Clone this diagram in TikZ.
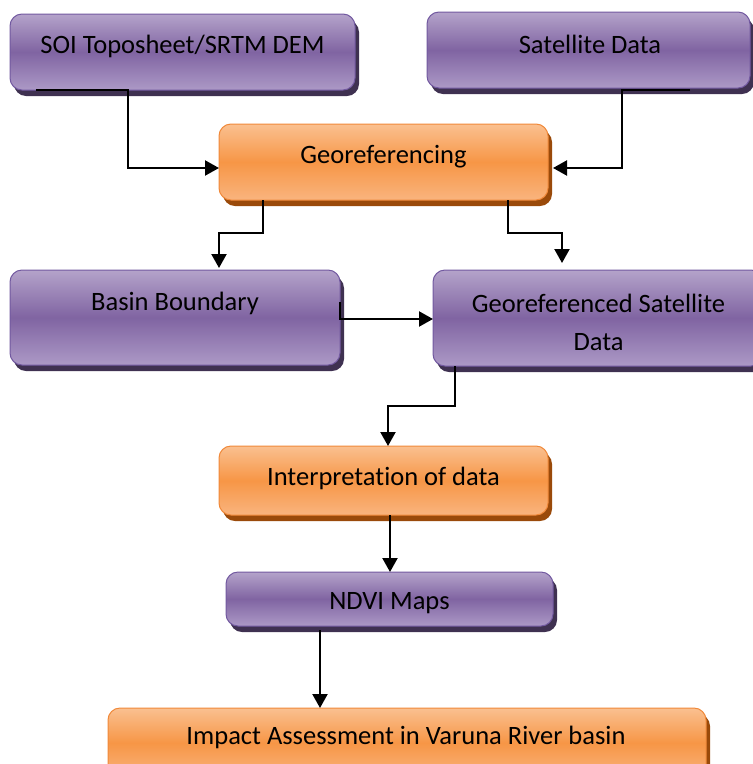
\documentclass[tikz,border=0pt]{standalone}
\usepackage{fontspec}
\setmainfont{Carlito}[Ligatures=NoCommon]
\usetikzlibrary{arrows.meta,calc,shadows}
\definecolor{ptop}{HTML}{B4A3CA}
\definecolor{pmid}{HTML}{8064A2}
\definecolor{pbot}{HTML}{AC99C6}
\definecolor{pborder}{HTML}{7259A0}
\definecolor{pshadow}{HTML}{3F3151}
\definecolor{otop}{HTML}{FAC090}
\definecolor{omid}{HTML}{F79646}
\definecolor{obot}{HTML}{F9B47E}
\definecolor{oborder}{HTML}{F0893A}
\definecolor{oshadow}{HTML}{9A4A0A}
\begin{document}
\begin{tikzpicture}[x=1pt,y=-1pt,
  boxbase/.style={rounded corners=12pt, line width=1pt, inner sep=0pt, outer sep=0pt},
  pbox/.style={boxbase, draw=pborder, top color=ptop, bottom color=pbot, middle color=pmid,
    drop shadow={shadow xshift=4pt, shadow yshift=-6pt, fill=pshadow, opacity=1}},
  obox/.style={boxbase, draw=oborder, top color=otop, bottom color=obot, middle color=omid,
    drop shadow={shadow xshift=4pt, shadow yshift=-6pt, fill=oshadow, opacity=1}},
  lbl/.style={font=\fontsize{26.5}{38}\selectfont, text=black, inner sep=0pt, align=center},
  conn/.style={line width=2.2pt, draw=black, -{Triangle[length=14pt,width=15pt]}}
]
\useasboundingbox (0,0) rectangle (753,764);
% boxes
\node[pbox, minimum width=345pt, minimum height=76pt] (soi) at (182.5,52) {};
\node[pbox, minimum width=323pt, minimum height=76pt] (sat) at (588.5,50) {};
\node[obox, minimum width=329pt, minimum height=76pt] (geo) at (383.5,162) {};
\node[pbox, minimum width=330pt, minimum height=95pt] (bb) at (175,317.5) {};
\node[pbox, minimum width=330pt, minimum height=96pt] (gsd) at (598,318) {};
\node[obox, minimum width=329pt, minimum height=69pt] (interp) at (383.5,480.5) {};
\node[pbox, minimum width=327pt, minimum height=54pt] (ndvi) at (389.5,599) {};
\node[obox, minimum width=598pt, minimum height=70pt] (impact) at (407,743) {};
% texts
\node[lbl] (soit) at ($(soi.center)+(0,-6)$) {SOI Toposheet/SRTM DEM};
\node[lbl] (satt) at ($(sat.center)+(1.5,-6)$) {Satellite Data};
\node[lbl] (geot) at ($(geo.center)+(0,-5)$) {Georeferencing};
\node[lbl] (bbt) at ($(bb.center)+(0,-14.5)$) {Basin Boundary};
\node[lbl] (gsdt) at ($(gsd.center)+(0.5,4)$) {Georeferenced Satellite\\Data};
\node[lbl] (interpt) at ($(interp.center)+(0,-2)$) {Interpretation of data};
\node[lbl] (ndvit) at ($(ndvi.center)+(0,4)$) {NDVI Maps};
\node[lbl] (impactt) at ($(impact.center)+(-1,-6)$) {Impact Assessment in Varuna River basin};
% connectors
\draw[conn] ($(soi.south west)+(26,0)$) -- ++(92,0) |- ($(geo.west)+(0,6)$);
\draw[conn] ($(sat.south west)+(263,2)$) -- ++(-68,0) |- ($(geo.east)+(5,6)$);
\draw[conn] ($(geo.south west)+(44,0)$) -- ++(0,33) -| ($(bb.north west)+(209,-2)$);
\draw[conn] ($(geo.south west)+(289,0)$) -- ++(0,33) -| ($(gsd.north west)+(129,-7)$);
\draw[conn] ($(bb.east)+(0,-15.5)$) |- ($(gsd.west)+(0,1)$);
\draw[conn] ($(gsd.south west)+(22,0)$) -- ++(0,40) -| ($(interp.north west)+(169,0)$);
\coordinate (c7) at ($(interp.south west)+(171,0)$);
\draw[conn] (c7) -- (c7 |- ndvi.north);
\coordinate (c8) at ($(ndvi.south west)+(94,4)$);
\draw[conn] (c8) -- (c8 |- impact.north);
\end{tikzpicture}
\end{document}
